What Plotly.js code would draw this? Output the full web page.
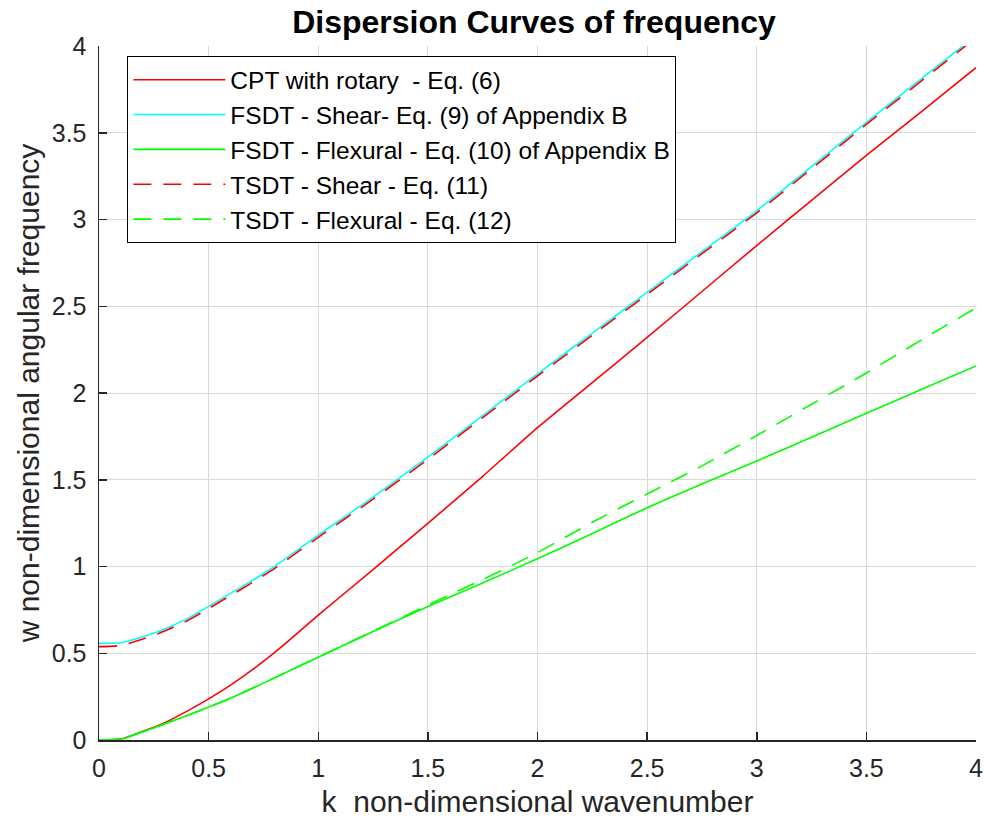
<!DOCTYPE html>
<html>
<head>
<meta charset="utf-8">
<script src="https://cdn.plot.ly/plotly-3.0.1.min.js"></script>
<style>html,body{margin:0;padding:0;background:#fff;}#chart{width:984px;height:823px;}</style>
</head>
<body>
<div id="chart"></div>
<script>
// wavenumber samples
const k = [0, 0.1, 0.2, 0.3, 0.4, 0.5, 0.6, 0.7, 0.8, 0.9, 1.0, 1.25, 1.5, 1.75, 2.0, 2.25, 2.5, 2.75, 3.0, 3.25, 3.5, 3.75, 4.0];

// CPT with rotary - Eq. (6)
const cpt = [0, 0.005, 0.05, 0.10, 0.165, 0.237, 0.316, 0.405, 0.503, 0.61, 0.72, 0.982, 1.249, 1.52, 1.80, 2.06, 2.32, 2.585, 2.85, 3.11, 3.37, 3.62, 3.875];
// FSDT - Shear - Eq. (9)
const fsdtShear = [0.557, 0.561, 0.595, 0.64, 0.698, 0.77, 0.845, 0.92, 1.0, 1.09, 1.18, 1.40, 1.63, 1.87, 2.11, 2.345, 2.58, 2.815, 3.05, 3.305, 3.56, 3.81, 4.06];
// FSDT - Flexural - Eq. (10)
const fsdtFlex = [0, 0.005, 0.047, 0.093, 0.14, 0.19, 0.241, 0.298, 0.358, 0.418, 0.477, 0.625, 0.77, 0.905, 1.045, 1.19, 1.339, 1.475, 1.608, 1.745, 1.883, 2.02, 2.156];
// TSDT - Shear - Eq. (11)
const tsdtShear = [0.538, 0.545, 0.582, 0.628, 0.686, 0.758, 0.833, 0.908, 0.988, 1.078, 1.168, 1.388, 1.618, 1.858, 2.098, 2.333, 2.568, 2.803, 3.038, 3.293, 3.548, 3.798, 4.048];
// TSDT - Flexural - Eq. (12)
const tsdtFlex = [0, 0.005, 0.047, 0.093, 0.14, 0.19, 0.241, 0.298, 0.358, 0.418, 0.477, 0.627, 0.778, 0.925, 1.08, 1.255, 1.418, 1.58, 1.755, 1.935, 2.115, 2.305, 2.49];

const names = [
  'CPT with rotary  - Eq. (6)',
  'FSDT - Shear- Eq. (9) of Appendix B',
  'FSDT - Flexural - Eq. (10) of Appendix B',
  'TSDT - Shear - Eq. (11)',
  'TSDT - Flexural - Eq. (12)'
];

const xTicks = [0, 0.5, 1, 1.5, 2, 2.5, 3, 3.5, 4];
const yTicks = [0, 0.5, 1, 1.5, 2, 2.5, 3, 3.5, 4];

const lw = 1.6;
const dashPat = '18px,12px';
const traces = [
  {x: k, y: cpt, name: names[0], line: {color: '#ff0000', width: lw}},
  {x: k, y: fsdtShear, name: names[1], line: {color: '#00ffff', width: lw}},
  {x: k, y: fsdtFlex, name: names[2], line: {color: '#00ff00', width: lw}},
  {x: k, y: tsdtShear, name: names[3], line: {color: '#ff0000', width: lw, dash: dashPat}},
  {x: k, y: tsdtFlex, name: names[4], line: {color: '#00ff00', width: lw, dash: dashPat}}
].map(t => {
  t.type = 'scatter'; t.mode = 'lines';
  t.line.shape = 'spline'; t.line.smoothing = 0.5;
  return t;
});

const fam = 'Liberation Sans, Arial, Helvetica, sans-serif';
const txtColor = '#262626';

const layout = {
  width: 984, height: 823,
  margin: {l: 99, r: 8, t: 46, b: 83},
  paper_bgcolor: '#ffffff', plot_bgcolor: '#ffffff',
  font: {family: fam, size: 25, color: txtColor},
  title: {text: '<b>Dispersion Curves of frequency</b>', x: 0.5427, xanchor: 'center', xref: 'container',
          y: 0.973, yanchor: 'middle',
          font: {family: fam, size: 32, color: '#000000'}},
  xaxis: {
    range: [0, 4], tickvals: xTicks, ticktext: xTicks.map(String),
    showgrid: true, gridcolor: '#d9d9d9', gridwidth: 1,
    showline: true, linecolor: txtColor, linewidth: 1.5,
    ticks: 'inside', ticklen: 8, tickcolor: txtColor, tickwidth: 1.5,
    ticklabelstandoff: 5,
    zeroline: false, tickfont: {family: fam, size: 25, color: txtColor},
    title: {text: 'k  non-dimensional wavenumber', font: {family: fam, size: 30, color: txtColor}, standoff: 10}
  },
  yaxis: {
    range: [0, 4], tickvals: yTicks, ticktext: yTicks.map(String),
    showgrid: true, gridcolor: '#d9d9d9', gridwidth: 1,
    showline: true, linecolor: txtColor, linewidth: 1.5,
    ticks: 'inside', ticklen: 8, tickcolor: txtColor, tickwidth: 1.5,
    ticklabelstandoff: 6,
    zeroline: false, tickfont: {family: fam, size: 25, color: txtColor},
    title: {text: 'w non-dimensional angular frequency', font: {family: fam, size: 30, color: txtColor}, standoff: 3}
  },
  showlegend: true,
  legend: {
    x: 0.032, y: 0.9856, xanchor: 'left', yanchor: 'top',
    bgcolor: '#ffffff', bordercolor: '#000000', borderwidth: 1.3,
    font: {family: fam, size: 24.5, color: '#000000'},
    itemwidth: 92, traceorder: 'normal'
  }
};

Plotly.newPlot('chart', traces, layout, {displayModeBar: false, staticPlot: true});
</script>
</body>
</html>
